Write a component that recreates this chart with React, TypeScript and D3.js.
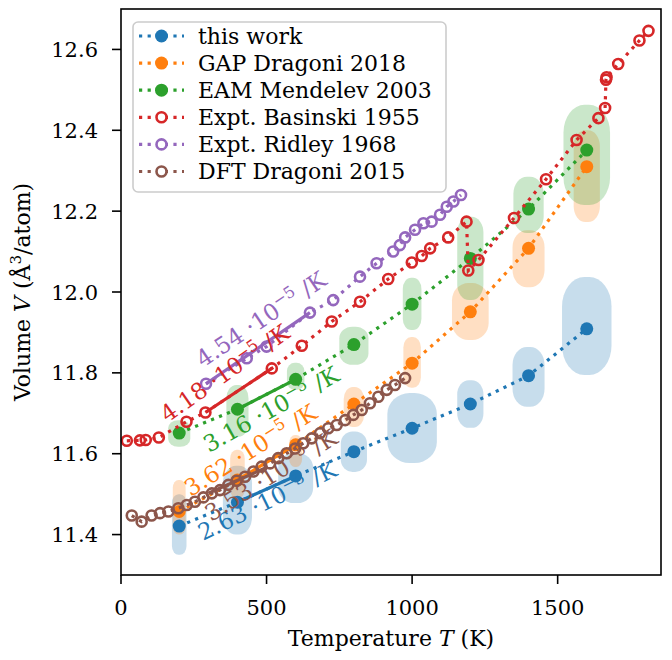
import React from "react";
import * as d3 from "d3";

// temperatures of the MD runs (K)
const temps = [200, 400, 600, 800, 1000, 1200, 1400, 1600];
const thisWork = [11.421, 11.48, 11.545, 11.605, 11.663, 11.723, 11.793, 11.909];
const gapDragoni = [11.457, 11.535, 11.622, 11.723, 11.824, 11.951, 12.108, 12.31];
const eamMendelev = [11.651, 11.71, 11.784, 11.87, 11.97, 12.083, 12.205, 12.351];

// spread of the sampled volumes: [half width in K, Vmin, Vmax]
const thisWorkSpread = [
  [25, 11.35, 11.5], [50, 11.4, 11.57], [60, 11.478, 11.602], [45, 11.555, 11.655],
  [85, 11.577, 11.75], [45, 11.664, 11.782], [55, 11.716, 11.864], [85, 11.795, 12.037],
];
const gapSpread = [
  [22, 11.4, 11.535], [25, 11.49, 11.61], [22, 11.567, 11.646], [35, 11.666, 11.765],
  [30, 11.763, 11.889], [63, 11.881, 12.022], [55, 12.012, 12.153], [45, 12.173, 12.4],
];
const eamSpread = [
  [38, 11.617, 11.683], [38, 11.642, 11.77], [30, 11.758, 11.825], [50, 11.82, 11.914],
  [32, 11.906, 12.035], [45, 11.98, 12.186], [52, 12.146, 12.285], [80, 12.215, 12.463],
];

const basinskiT = [20, 65, 85, 130, 225, 290, 518, 621, 724, 821, 918, 999, 1033, 1062, 1124, 1187, 1193, 1228, 1350, 1460, 1565, 1640, 1663, 1666, 1668, 1708, 1781, 1812];
const basinskiV = [11.632, 11.633, 11.634, 11.64, 11.679, 11.702, 11.811, 11.867, 11.927, 11.976, 12.032, 12.073, 12.089, 12.108, 12.135, 12.174, 12.053, 12.079, 12.183, 12.279, 12.376, 12.43, 12.455, 12.525, 12.531, 12.564, 12.622, 12.646];

const ridleyT = [292, 432, 500, 649, 729, 821, 878, 935, 958, 976, 1010, 1039, 1067, 1096, 1119, 1142, 1168];
const ridleyV = [11.773, 11.836, 11.865, 11.949, 11.98, 12.038, 12.071, 12.1, 12.116, 12.135, 12.154, 12.17, 12.174, 12.191, 12.211, 12.224, 12.24];

const dftT = [37, 71, 105, 134, 163, 197, 226, 254, 283, 312, 340, 369, 397, 426, 455, 483, 512, 540, 569, 598, 626, 655, 684, 712, 741, 770, 798, 827, 855, 884, 913, 941, 976];
const dftV = [11.447, 11.432, 11.447, 11.453, 11.457, 11.465, 11.473, 11.481, 11.492, 11.502, 11.51, 11.523, 11.533, 11.543, 11.556, 11.568, 11.576, 11.589, 11.601, 11.613, 11.626, 11.638, 11.651, 11.663, 11.671, 11.683, 11.696, 11.708, 11.725, 11.741, 11.758, 11.77, 11.787];

const legendLabels = ["this work", "GAP Dragoni 2018", "EAM Mendelev 2003", "Expt. Basinski 1955", "Expt. Ridley 1968", "DFT Dragoni 2015"];
const colors = ["#1f77b4", "#ff7f0e", "#2ca02c", "#d62728", "#9467bd", "#8c564b"];
const filled = [true, true, true, false, false, false];

// linear fits: [T0, V0, T1, V1]
const fits = [
  [400, 11.48, 600, 11.545],
  [400, 11.535, 600, 11.622],
  [400, 11.71, 600, 11.784],
  [290, 11.702, 518, 11.811],
  [292, 11.773, 649, 11.949],
  [300, 11.502, 500, 11.566],
];
const alphaLabels = ["2.63", "3.62", "3.16", "4.18", "4.54", "3.53"];
// text anchor (T, V) and rotation in degrees
const alphaPos = [
  [282, 11.384, -26],
  [240, 11.493, -32],
  [302, 11.602, -29],
  [160, 11.676, -35],
  [282, 11.812, -34],
  [310, 11.431, -32],
];

const xTicks = [0, 500, 1000, 1500];
const yTicks = [11.4, 11.6, 11.8, 12.0, 12.2, 12.4, 12.6];

const font = "DejaVu Serif";

export default function App() {
  const W = 672;
  const H = 660;
  const x = d3.scaleLinear().domain([0, 1855]).range([121, 661]);
  const y = d3.scaleLinear().domain([11.3, 12.7]).range([575, 9]);

  const series = [
    { T: temps, V: thisWork, spread: thisWorkSpread },
    { T: temps, V: gapDragoni, spread: gapSpread },
    { T: temps, V: eamMendelev, spread: eamSpread },
    { T: basinskiT, V: basinskiV },
    { T: ridleyT, V: ridleyV },
    { T: dftT, V: dftV },
  ];

  const path = (T: number[], V: number[]) =>
    d3.line<number>()
      .x((_, i) => x(T[i]))
      .y((v) => y(v))(V) || "";

  const dots = "3.2 5.4";

  return (
    <svg width={W} height={H} style={{ position: "absolute", left: 0, top: 0, background: "#fff" }} fontFamily={font}>
      {/* spreads */}
      {series.map((s, k) =>
        s.spread
          ? s.spread.map(([hw, lo, hi], i) => {
              const x0 = x(s.T[i] - hw);
              const w = x(s.T[i] + hw) - x0;
              const y0 = y(hi);
              const h = y(lo) - y0;
              return (
                <rect key={`b${k}-${i}`} x={x0} y={y0} width={w} height={h}
                  rx={w * 0.45} ry={Math.min(h * 0.3, w * 0.6)}
                  fill={colors[k]} fillOpacity={0.25} />
              );
            })
          : null
      )}

      {/* series */}
      {series.map((s, k) => (
        <g key={`s${k}`}>
          <path d={path(s.T, s.V)} fill="none" stroke={colors[k]} strokeWidth={3.2} strokeDasharray={dots} />
          {s.V.map((v, i) =>
            filled[k] ? (
              <circle key={i} cx={x(s.T[i])} cy={y(v)} r={6.5} fill={colors[k]} />
            ) : (
              <circle key={i} cx={x(s.T[i])} cy={y(v)} r={5} fill="none" stroke={colors[k]} strokeWidth={2.6} />
            )
          )}
          <line x1={x(fits[k][0])} y1={y(fits[k][1])} x2={x(fits[k][2])} y2={y(fits[k][3])}
            stroke={colors[k]} strokeWidth={3.2} />
        </g>
      ))}

      {/* expansion coefficient labels */}
      {alphaPos.map(([t, v, a], k) => (
        <text key={`a${k}`} transform={`translate(${x(t)},${y(v)}) rotate(${a})`} fill={colors[k]} fontSize={23}>
          {alphaLabels[k]} ·10
          <tspan dy={-9} fontSize={16}>−5</tspan>
          <tspan dy={9}> /K</tspan>
        </text>
      ))}

      {/* frame */}
      <rect x={121} y={9} width={540} height={566} fill="none" stroke="#000" strokeWidth={1.6} />

      {/* x axis */}
      {xTicks.map((t) => (
        <g key={`x${t}`} transform={`translate(${x(t)},575)`}>
          <line y2={9} stroke="#000" strokeWidth={1.6} />
          <text y={40} textAnchor="middle" fontSize={21}>{t}</text>
        </g>
      ))}
      <text x={391} y={646} textAnchor="middle" fontSize={22}>
        Temperature <tspan fontStyle="italic">T</tspan> (K)
      </text>

      {/* y axis */}
      {yTicks.map((t) => (
        <g key={`y${t}`} transform={`translate(121,${y(t)})`}>
          <line x2={-9} stroke="#000" strokeWidth={1.6} />
          <text x={-23} dy="0.36em" textAnchor="end" fontSize={21}>{t.toFixed(1)}</text>
        </g>
      ))}
      <text transform="translate(30,292) rotate(-90)" textAnchor="middle" fontSize={22}>
        Volume <tspan fontStyle="italic">V</tspan> (Å<tspan dy={-9} fontSize={15}>3</tspan><tspan dy={9}>/atom)</tspan>
      </text>

      {/* legend */}
      <rect x={133} y={22} width={313} height={170} rx={5} fill="#fff" fillOpacity={0.8} stroke="#ccc" strokeWidth={1.6} />
      {legendLabels.map((lab, k) => {
        const cy = 36 + k * 27.1;
        return (
          <g key={`l${k}`}>
            <line x1={139} x2={184} y1={cy} y2={cy} stroke={colors[k]} strokeWidth={3.2} strokeDasharray={dots} />
            {filled[k] ? (
              <circle cx={161.5} cy={cy} r={6.5} fill={colors[k]} />
            ) : (
              <circle cx={161.5} cy={cy} r={5} fill="#fff" stroke={colors[k]} strokeWidth={2.6} />
            )}
            <text x={198} y={cy} dy="0.36em" fontSize={22}>{lab}</text>
          </g>
        );
      })}
    </svg>
  );
}
